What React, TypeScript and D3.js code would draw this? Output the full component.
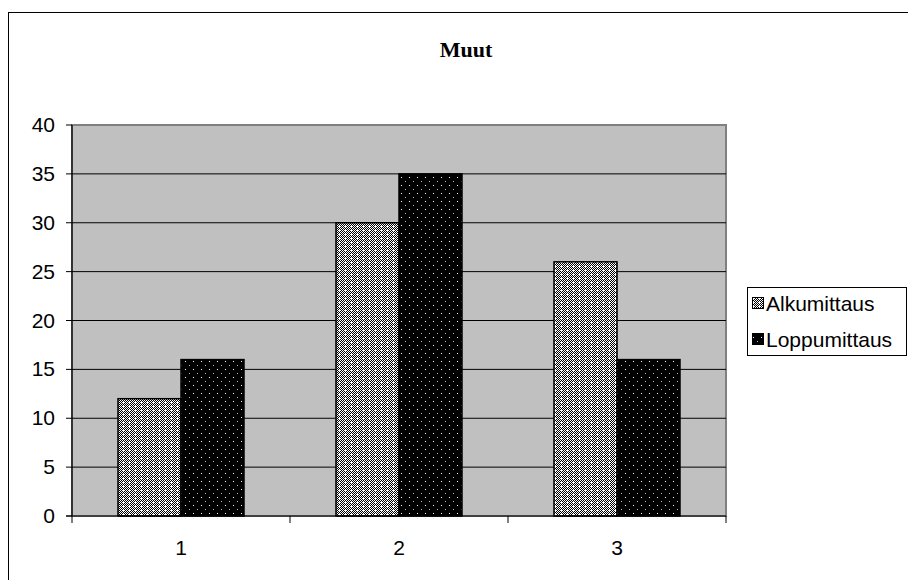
import React, { useEffect, useRef } from "react";
import * as d3 from "d3";

const categories = ["1", "2", "3"];
const seriesNames = ["Alkumittaus", "Loppumittaus"];
const alkumittaus = [12, 30, 26];
const loppumittaus = [16, 35, 16];
const yTicks = [0, 5, 10, 15, 20, 25, 30, 35, 40];
const title = "Muut";

export default function App() {
  const ref = useRef<SVGSVGElement | null>(null);
  useEffect(() => {
    const svg = d3.select(ref.current);
    svg.selectAll("*").remove();
    const W = 908, H = 580;
    const left = 72, right = 726, top = 125, bottom = 516;
    const sans = "Liberation Sans, Arial, sans-serif";

    const defs = svg.append("defs");
    const p1 = defs.append("pattern").attr("id", "pAlku").attr("patternUnits", "userSpaceOnUse")
      .attr("width", 6).attr("height", 4);
    p1.append("rect").attr("width", 6).attr("height", 4).attr("fill", "#000");
    for (let yy = 0; yy < 4; yy++) {
      for (let xx = 0; xx < 6; xx++) {
        if ((xx + yy) % 2 === 0) p1.append("rect").attr("x", xx).attr("y", yy).attr("width", 1).attr("height", 1).attr("fill", "#fff");
      }
    }
    p1.append("rect").attr("x", 3).attr("y", 1).attr("width", 1).attr("height", 2).attr("fill", "#fff");
    const p2 = defs.append("pattern").attr("id", "pLoppu").attr("patternUnits", "userSpaceOnUse")
      .attr("width", 8).attr("height", 8);
    p2.append("rect").attr("width", 8).attr("height", 8).attr("fill", "#000");
    p2.append("rect").attr("x", 1).attr("y", 1).attr("width", 1).attr("height", 1).attr("fill", "#fff");
    p2.append("rect").attr("x", 5).attr("y", 5).attr("width", 1).attr("height", 1).attr("fill", "#bbb");

    // outer frame
    svg.append("rect").attr("x", 8.5).attr("y", 12.5).attr("width", W + 10).attr("height", H + 10)
      .attr("fill", "#fff").attr("stroke", "#000").attr("stroke-width", 1);

    svg.append("text").attr("x", 466).attr("y", 57).attr("text-anchor", "middle")
      .attr("font-family", "Liberation Serif, serif").attr("font-weight", "bold").attr("font-size", "22px")
      .text(title);

    const y = d3.scaleLinear().domain([0, 40]).range([bottom, top]);
    const x0 = d3.scaleBand().domain(categories).range([left, right]).paddingInner(0).paddingOuter(0);
    const x1 = d3.scaleBand().domain(seriesNames).range([0, x0.bandwidth()]).paddingOuter(0.73).paddingInner(0);

    svg.append("rect").attr("x", left).attr("y", top).attr("width", right - left).attr("height", bottom - top)
      .attr("fill", "#c0c0c0").attr("stroke", "#808080").attr("stroke-width", 2);

    yTicks.filter((t) => t > 0 && t < 40).forEach((t) => {
      svg.append("line").attr("x1", left).attr("x2", right).attr("y1", y(t)).attr("y2", y(t))
        .attr("stroke", "#000").attr("stroke-width", 1);
    });

    const data = [alkumittaus, loppumittaus];
    const fills = ["url(#pAlku)", "url(#pLoppu)"];
    categories.forEach((c, i) => {
      seriesNames.forEach((s, j) => {
        const v = data[j][i];
        svg.append("rect").attr("x", (x0(c) as number) + (x1(s) as number)).attr("y", y(v))
          .attr("width", x1.bandwidth()).attr("height", y(0) - y(v))
          .attr("fill", fills[j]).attr("stroke", "#000").attr("stroke-width", 1.5);
      });
    });

    // axes
    svg.append("line").attr("x1", left).attr("x2", left).attr("y1", top).attr("y2", bottom).attr("stroke", "#000").attr("stroke-width", 1.2);
    svg.append("line").attr("x1", left - 6).attr("x2", right).attr("y1", bottom).attr("y2", bottom).attr("stroke", "#000").attr("stroke-width", 1.2);
    yTicks.forEach((t) => {
      svg.append("line").attr("x1", left - 6).attr("x2", left).attr("y1", y(t)).attr("y2", y(t)).attr("stroke", "#000");
      svg.append("text").attr("x", 55).attr("y", y(t) + 7).attr("text-anchor", "end")
        .attr("font-family", sans).attr("font-size", "21px").text(String(t));
    });
    [0, 1, 2, 3].forEach((k) => {
      const xx = left + k * x0.bandwidth();
      svg.append("line").attr("x1", xx).attr("x2", xx).attr("y1", bottom).attr("y2", bottom + 7).attr("stroke", "#000");
    });
    categories.forEach((c) => {
      svg.append("text").attr("x", (x0(c) as number) + x0.bandwidth() / 2).attr("y", 555).attr("text-anchor", "middle")
        .attr("font-family", sans).attr("font-size", "21px").text(c);
    });

    // legend
    svg.append("rect").attr("x", 747.5).attr("y", 287.5).attr("width", 159).attr("height", 68)
      .attr("fill", "#fff").attr("stroke", "#000");
    seriesNames.forEach((s, j) => {
      const cy = 303 + j * 36;
      svg.append("rect").attr("x", 752.5).attr("y", cy - 5.5).attr("width", 11).attr("height", 11)
        .attr("fill", fills[j]).attr("stroke", "#000").attr("stroke-width", 1);
      svg.append("text").attr("x", 766).attr("y", cy + 8).attr("font-family", sans)
        .attr("font-size", "21px").text(s);
    });
  }, []);
  return (
    <svg ref={ref} width={908} height={580} style={{ position: "absolute", left: 0, top: 0, background: "#fff" }} />
  );
}
